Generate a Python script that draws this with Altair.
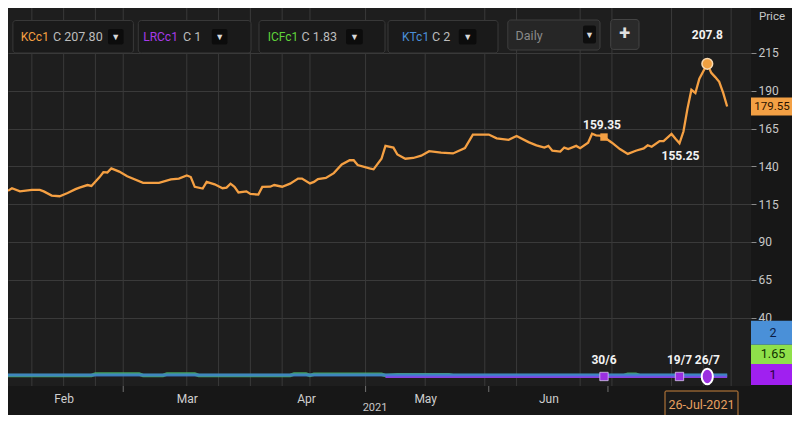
import altair as alt
import pandas as pd

# ---------------- data ----------------
price_dates = [
    "2021-01-31", "2021-02-01", "2021-02-03", "2021-02-06", "2021-02-08", "2021-02-09", "2021-02-11",
    "2021-02-13", "2021-02-15", "2021-02-17", "2021-02-18", "2021-02-20", "2021-02-21", "2021-02-23",
    "2021-02-24", "2021-02-25", "2021-02-26", "2021-02-28", "2021-03-02", "2021-03-06", "2021-03-10",
    "2021-03-13", "2021-03-15", "2021-03-17", "2021-03-18", "2021-03-19", "2021-03-21", "2021-03-22",
    "2021-03-24", "2021-03-26", "2021-03-27", "2021-03-28", "2021-03-29", "2021-03-30", "2021-04-01",
    "2021-04-02", "2021-04-04", "2021-04-05", "2021-04-07", "2021-04-08", "2021-04-10", "2021-04-12",
    "2021-04-14", "2021-04-15", "2021-04-17", "2021-04-18", "2021-04-19", "2021-04-21", "2021-04-23",
    "2021-04-25", "2021-04-27", "2021-04-28", "2021-04-29", "2021-05-02", "2021-05-03", "2021-05-05",
    "2021-05-06", "2021-05-08", "2021-05-09", "2021-05-11", "2021-05-13", "2021-05-15", "2021-05-17",
    "2021-05-20", "2021-05-23", "2021-05-26", "2021-05-28", "2021-06-01", "2021-06-03", "2021-06-06",
    "2021-06-08", "2021-06-11", "2021-06-13", "2021-06-15", "2021-06-16", "2021-06-17", "2021-06-19",
    "2021-06-20", "2021-06-21", "2021-06-23", "2021-06-24", "2021-06-26", "2021-06-27", "2021-06-28",
    "2021-06-29", "2021-06-30", "2021-07-02", "2021-07-04", "2021-07-06", "2021-07-08", "2021-07-10",
    "2021-07-11", "2021-07-12", "2021-07-14", "2021-07-15", "2021-07-17", "2021-07-18", "2021-07-19",
    "2021-07-20", "2021-07-21", "2021-07-22", "2021-07-23", "2021-07-24", "2021-07-26", "2021-07-27",
    "2021-07-28", "2021-07-29", "2021-07-30", "2021-07-31",
]
price_values = [
    123.8, 125.5, 123.4, 124.4, 124.4, 123.4, 120.6,
    120.2, 122.3, 124.9, 125.9, 127.6, 127.0, 132.7,
    136.1, 135.9, 138.6, 136.5, 133.4, 129.1, 129.1,
    131.3, 131.9, 134.0, 132.9, 126.4, 125.3, 129.7,
    128.1, 125.5, 125.9, 128.5, 126.4, 122.7, 123.4,
    121.7, 121.3, 126.4, 126.5, 127.6, 126.5, 128.5,
    131.9, 131.9, 128.7, 129.7, 131.6, 132.3, 135.5,
    141.2, 144.0, 144.0, 140.8, 138.6, 138.0, 145.0,
    153.5, 152.4, 147.8, 145.0, 145.5, 147.0, 150.0,
    149.0, 148.5, 152.0, 161.0, 161.0, 158.5, 157.5,
    160.0, 156.0, 153.9, 152.4, 153.5, 150.3, 149.7,
    152.4, 151.4, 153.5, 152.0, 155.6, 161.5, 160.5,
    160.3, 159.35, 155.6, 151.4, 148.2, 150.3, 151.8,
    153.9, 152.9, 156.7, 156.7, 161.4, 158.2, 155.25,
    163.0, 178.0, 190.6, 188.5, 198.0, 207.8, 201.8,
    199.0, 195.9, 188.5, 179.55,
]

kt_dates = ["2021-01-31", "2021-07-31"]
kt_values = [2, 2]
lrc_dates = ["2021-05-06", "2021-07-31"]
lrc_values = [1, 1]
icf_dates = [
    "2021-01-31", "2021-02-21", "2021-02-22", "2021-03-05", "2021-03-06", "2021-03-11", "2021-03-12",
    "2021-03-19", "2021-03-20", "2021-04-12", "2021-04-13", "2021-04-16", "2021-04-17", "2021-04-18",
    "2021-05-05", "2021-05-06", "2021-05-09", "2021-05-22", "2021-05-23", "2021-07-05", "2021-07-06",
    "2021-07-08", "2021-07-09", "2021-07-31",
]
icf_values = [
    1.7, 1.7, 2.6, 2.6, 1.7, 1.7, 2.6,
    2.6, 1.7, 1.7, 2.6, 2.6, 1.7, 2.4,
    2.4, 1.7, 2.2, 2.2, 1.7, 1.7, 2.4,
    2.4, 1.7, 1.65,
]

price_marks_dates = ["2021-07-26", "2021-06-30", "2021-07-19"]
price_marks_values = [207.8, 159.35, 155.25]
price_marks_labels = ["207.8", "159.35", "155.25"]

event_dates = ["2021-06-30", "2021-07-19", "2021-07-26"]
event_values = [1, 1, 1]
event_labels = ["30/6", "19/7", "26/7"]

grid_dates = [
    "2021-02-06", "2021-02-14", "2021-02-22", "2021-03-01", "2021-03-17", "2021-03-25", "2021-04-02",
    "2021-04-10", "2021-04-17", "2021-05-01", "2021-05-16", "2021-05-31", "2021-06-08", "2021-06-24",
    "2021-07-02", "2021-07-17", "2021-07-25", "2021-08-01",
]
month_tick_dates = ["2021-03-01", "2021-05-01", "2021-06-01", "2021-07-01"]
month_label_days = [(2, 14), (3, 17), (4, 16), (5, 16), (6, 16)]
price_ticks = [40, 65, 90, 115, 140, 165, 190, 215]

last_price = 179.55
panel_last = ["2", "1.65", "1"]
tickers = ["KCc1", "LRCc1", "ICFc1", "KTc1"]
ticker_close = ["C 207.80", "C 1", "C 1.83", "C 2"]

# ---------------- layout ----------------
W, H = 743, 378
FONT = "Roboto"
ORANGE = "#f5a043"
PURPLE = "#9b30e0"

price_df = pd.DataFrame({"date": price_dates, "v": price_values})
kt_df = pd.DataFrame({"date": kt_dates, "v": kt_values})
lrc_df = pd.DataFrame({"date": lrc_dates, "v": lrc_values})
icf_df = pd.DataFrame({"date": icf_dates, "v": icf_values})
pm_df = pd.DataFrame({"date": price_marks_dates, "v": price_marks_values, "t": price_marks_labels})
ev_df = pd.DataFrame({"date": event_dates, "v": event_values, "t": event_labels})
grid_df = pd.DataFrame({"date": grid_dates})
mt_df = pd.DataFrame({"date": month_tick_dates})
last_df = pd.DataFrame({"v": [last_price], "t": [f"{last_price:.2f}"]})
one = pd.DataFrame({"k": [0]})

xscale = alt.Scale(
    type="utc",
    domain=[alt.DateTime(year=2021, month=1, date=31, utc=True),
            alt.DateTime(year=2021, month=8, date=6, utc=True)],
)
xaxis = alt.Axis(
    values=[alt.DateTime(year=2021, month=m, date=d, utc=True) for m, d in month_label_days],
    labelExpr="utcFormat(datum.value, '%b')", title=None, grid=False, ticks=False, domain=False,
    labelColor="#cfcfcf", labelFont=FONT, labelFontSize=12, labelPadding=7,
)
yscale = alt.Scale(domain=[-5.3, 244.7], nice=False, zero=False)
yaxis = alt.Axis(
    orient="right", values=price_ticks, title=None, grid=True, gridColor="#3a3a3a",
    gridWidth=1, domain=False, tickSize=5, tickColor="#8a8a8a", labelColor="#c8c8c8",
    labelFont=FONT, labelFontSize=12, labelPadding=2,
)


def X(f="date"):
    return alt.X(f"{f}:T", scale=xscale, axis=xaxis)


def Y(f="v"):
    return alt.Y(f"{f}:Q", scale=yscale, axis=yaxis)


def box(x0, x1, y0, y1, fill, stroke=None, r=3, sw=1):
    kw = dict(fill=fill, cornerRadius=r)
    if stroke:
        kw.update(stroke=stroke, strokeWidth=sw)
    return alt.Chart(one).mark_rect(**kw).encode(
        x=alt.value(x0), x2=alt.value(x1), y=alt.value(y0), y2=alt.value(y1))


def label(text, x, y, color, size=12, align="left", weight="normal"):
    return alt.Chart(one).mark_text(
        text=text, color=color, fontSize=size, font=FONT, align=align,
        baseline="middle", fontWeight=weight).encode(x=alt.value(x), y=alt.value(y))


layers = []

# vertical grid lines
layers.append(alt.Chart(grid_df).mark_rule(color="#3a3a3a", strokeWidth=1).encode(
    x=X(), y=alt.value(0), y2=alt.value(H)))
# month start ticks below plot
layers.append(alt.Chart(mt_df).mark_rule(color="#707070", strokeWidth=1).encode(
    x=X(), y=alt.value(H), y2=alt.value(H + 6)))

# price line (carries axes)
layers.append(alt.Chart(price_df).mark_line(color=ORANGE, strokeWidth=2.3).encode(x=X(), y=Y()))

# lower series
layers.append(alt.Chart(icf_df).mark_line(color="#4cc06a", strokeWidth=3.5, opacity=0.8).encode(x=X(), y=Y()))
layers.append(alt.Chart(lrc_df).mark_line(color="#8a3ee0", strokeWidth=3).encode(x=X(), y=Y()))
layers.append(alt.Chart(kt_df).mark_line(color="#3d7fd6", strokeWidth=3, opacity=0.8).encode(x=X(), y=Y()))

# price markers
pm_peak = pm_df.iloc[[0]]
pm_sq = pm_df.iloc[[1]]
layers.append(alt.Chart(pm_peak).mark_point(shape="circle", filled=True, size=115, fill="#f0a040",
                                            stroke="#f9d9b0", strokeWidth=1.5, opacity=1).encode(x=X(), y=Y()))
layers.append(alt.Chart(pm_sq).mark_point(shape="square", filled=True, size=55, color=ORANGE,
                                          opacity=1).encode(x=X(), y=Y()))
offsets = [(-29, 0), (-12.5, -2), (13, 1)]
for i, (dy, dx) in enumerate(offsets):
    layers.append(alt.Chart(pm_df.iloc[[i]]).mark_text(
        color="#f2f2f2", fontSize=12, fontWeight="bold", font=FONT, dy=dy, dx=dx,
        baseline="middle").encode(x=X(), y=Y(), text="t:N"))

# event markers on lower panel
layers.append(alt.Chart(ev_df.iloc[:2]).mark_point(shape="square", filled=True, size=70, fill=PURPLE,
                                                   stroke="#d8c8f0", strokeWidth=0.8, opacity=1).encode(x=X(), y=Y()))
layers.append(alt.Chart(ev_df.iloc[[2]]).mark_point(
    shape="M0,-1A0.72,1,0,1,1,0,1A0.72,1,0,1,1,0,-1Z", filled=True, size=240, fill=PURPLE,
    stroke="#ffffff", strokeWidth=2, opacity=1).encode(x=X(), y=Y()))
layers.append(alt.Chart(ev_df).mark_text(color="#f2f2f2", fontSize=12, fontWeight="bold", font=FONT,
                                         dy=-16, baseline="middle").encode(x=X(), y=Y(), text="t:N"))

# toolbar
TB_Y0, TB_Y1, TY = 12.5, 45, 28.9
tb = [
    (4.9, 125.4, 100, 115.6, 12.7, 45, ORANGE),
    (130.3, 243, 203.8, 219.5, 135.2, 175, "#a83ae8"),
    (251, 377, 338, 354.8, 259.7, 293.5, "#5fd33a"),
    (380, 490, 450.8, 468.4, 394, 424, "#4a8fd8"),
]
for (bx0, bx1, ax0, ax1, tx, cx, col), tk, cl in zip(tb, tickers, ticker_close):
    layers.append(box(bx0, bx1, TB_Y0, TB_Y1, "#1a1a1a", "#383838"))
    layers.append(box(ax0, ax1, 21, 36.6, "#0c0c0c", None, r=2))
    layers.append(label("▼", (ax0 + ax1) / 2, 28.5, "#d8d8d8", size=9, align="center"))
    layers.append(label(tk, tx, TY, col, size=12))
    layers.append(label(cl, cx, TY, "#bdbdbd", size=12.5))

layers.append(box(499.8, 592, 12, 42, "#262626", "#3e3e3e"))
layers.append(label("Daily", 507.6, 27.5, "#8a8a8a", size=12.5))
layers.append(box(575, 588, 17.6, 35.6, "#0e0e0e", None, r=2))
layers.append(label("▼", 581.5, 27, "#d8d8d8", size=9, align="center"))
layers.append(box(602.7, 631, 11.5, 41.4, "#2a2a2a", "#444444"))
layers.append(label("+", 616.8, 25.5, "#e0e0e0", size=20, align="center", weight="bold"))

# right side: price title and last-value boxes
layers.append(label("Price", 764, 9, "#c8c8c8", size=11.5, align="center"))
layers.append(alt.Chart(last_df).mark_point(
    shape="M-1,-0.44L1,-0.44L1,0.44L-1,0.44Z", filled=True, size=1681, fill="#f3a044", opacity=1
).encode(x=alt.value(763.5), y=Y()))
layers.append(alt.Chart(last_df).mark_text(color="#2a1200", fontSize=11.5, font=FONT, align="center",
                                           baseline="middle").encode(x=alt.value(764), y=Y(), text="t:N"))

for (y0, y1, fill, tcol), t in zip(
        [(312.7, 336.7, "#4a90d8", "#0b1d44"), (336.7, 356, "#8fe04a", "#123000"),
         (356, 377, "#a020f0", "#2a0040")], panel_last):
    layers.append(box(743, 784, y0, y1, fill, None, r=0))
    layers.append(label(t, 765, (y0 + y1) / 2, tcol, size=12.5, align="center"))

# bottom date box and year label
layers.append(box(657, 730, 383, 410, "#1a1a1a", "#c8823c", r=1))
layers.append(label("26-Jul-2021", 693.5, 396.5, "#e8a060", size=12.5, align="center"))
layers.append(alt.Chart(one).mark_text(text="2021", color="#c8c8c8", fontSize=11, font=FONT,
                                       align="center", baseline="top").encode(
    x=alt.value(367), y=alt.value(394)))

chart = alt.layer(*layers).properties(
    width=W, height=H,
    padding={"left": 0, "top": 0, "right": 41, "bottom": 29},
    autosize=alt.AutoSizeParams(type="none"),
    background="#171717",
).configure_view(fill="#1e1e1e", strokeWidth=0)

chart.save("out.html", embed_options={"renderer": "svg", "actions": False})
